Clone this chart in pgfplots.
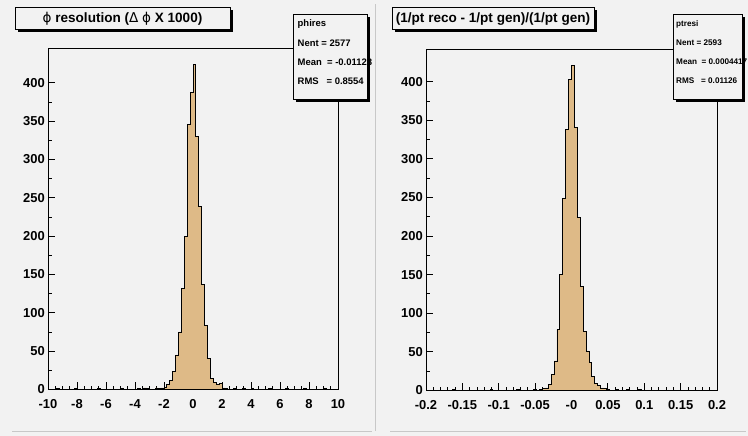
\documentclass[border=0pt]{standalone}
\usepackage{fontspec}
\setmainfont{Liberation Sans}
\newfontfamily\dejavu{DejaVu Sans}
\usepackage{pgfplots}
\pgfplotsset{compat=1.18}
\definecolor{bg}{RGB}{242,242,242}
\definecolor{histfill}{RGB}{222,186,135}
\definecolor{padline}{RGB}{200,200,200}

\pgfplotsset{rootaxis/.style={
  scale only axis,
  axis line style={black, line width=1bp},
  xtick pos=bottom, ytick pos=left,
  tick align=inside,
  major tick length=7bp, minor tick length=3.5bp,
  every tick/.style={black, line width=0.8bp},
  ymin=0,
  ytick={0,50,...,400},
  minor y tick num=1,
  /pgf/number format/assume math mode=true,
  tick label style={font=\bfseries\fontsize{13}{13}\selectfont, inner sep=0pt},
  xticklabel style={yshift=-10bp},
  yticklabel style={xshift=-3bp},
}}

\begin{document}
\begin{tikzpicture}
\fill[bg] (0bp,0bp) rectangle (748bp,436bp);
\useasboundingbox (0bp,0bp) rectangle (748bp,436bp);
% pad borders
\draw[padline, line width=1bp] (12bp,4bp) -- (372bp,4bp);
\draw[padline, line width=1bp] (375bp,5bp) -- (375bp,432bp);
\draw[padline, line width=1bp] (390bp,4bp) -- (746bp,4bp);

% ---------- left histogram ----------
\begin{axis}[rootaxis,
  at={(48bp,46.5bp)}, anchor=south west,
  width=290bp, height=340.5bp,
  xmin=-10, xmax=10, ymax=444,
  xtick={-10,-8,...,10},
  xticklabels={-10,-8,-6,-4,-2,0,2,4,6,8,10},
  minor x tick num=3,
]
\addplot[const plot, fill=histfill, draw=black, line width=0.9bp] coordinates {
(-10,0) (-9.4,1) (-9.2,0) (-8.2,1) (-8.0,0) (-6.6,1) (-6.4,0) (-5.0,1) (-4.8,0)
(-3.8,1) (-3.6,0) (-3.4,2) (-3.2,1) (-3.0,0) (-2.6,2) (-2.4,1) (-2.2,2)
(-2.0,3) (-1.8,6) (-1.6,12) (-1.4,24) (-1.2,45) (-1.0,75) (-0.8,132) (-0.6,200)
(-0.4,345) (-0.2,387) (0,424) (0.2,330) (0.4,239) (0.6,137) (0.8,83) (1.0,40)
(1.2,14) (1.4,9) (1.6,6) (1.8,8)
(2.0,2) (2.2,1) (2.4,0) (2.8,1) (3.0,0) (3.4,1) (3.6,0) (4.0,1) (4.2,0)
(5.2,1) (5.4,0) (6.4,1) (6.6,0) (7.6,1) (7.8,0) (9.0,1) (9.2,0) (10,0)
} \closedcycle;
\end{axis}

% ---------- right histogram ----------
\begin{axis}[rootaxis,
  at={(426bp,45.7bp)}, anchor=south west,
  width=291bp, height=341bp,
  xmin=-0.2, xmax=0.2, ymax=442,
  xtick={-0.2,-0.15,-0.1,-0.05,0,0.05,0.1,0.15,0.2},
  xticklabels={-0.2,-0.15,-0.1,-0.05,-0,0.05,0.1,0.15,0.2},
  minor x tick num=4,
]
\addplot[const plot, fill=histfill, draw=black, line width=0.9bp] coordinates {
(-0.2,0) (-0.164,1) (-0.160,0) (-0.112,1) (-0.108,0) (-0.076,1) (-0.072,0)
(-0.052,1) (-0.048,0) (-0.044,1) (-0.040,2) (-0.036,3) (-0.032,7) (-0.028,21)
(-0.024,38) (-0.020,79) (-0.016,150) (-0.012,249) (-0.008,338) (-0.004,403)
(0,421) (0.004,341) (0.008,224) (0.012,135) (0.016,76) (0.020,51) (0.024,36)
(0.028,18) (0.032,9) (0.036,6) (0.040,3) (0.044,2) (0.048,1) (0.052,0)
(0.060,1) (0.064,0) (0.076,1) (0.080,0) (0.092,1) (0.096,0) (0.2,0)
} \closedcycle;
\end{axis}

% ---------- title boxes ----------
\fill[black] (17.5bp,425.5bp) rectangle (232.5bp,403.5bp);
\filldraw[fill=bg, draw=black, line width=1bp] (15bp,428bp) rectangle (230bp,406bp);
\node[font=\bfseries\fontsize{13.6}{14}\selectfont, inner sep=0pt] at (122.5bp,417bp)
  {{\dejavu\mdseries ϕ} resolution ({\dejavu\mdseries Δ} {\dejavu\mdseries ϕ} X 1000)};

\fill[black] (394.5bp,425.5bp) rectangle (596.5bp,403.5bp);
\filldraw[fill=bg, draw=black, line width=1bp] (392bp,428bp) rectangle (594bp,406bp);
\node[font=\bfseries\fontsize{13.6}{14}\selectfont, inner sep=0pt] at (493bp,417bp)
  {(1/pt reco - 1/pt gen)/(1/pt gen)};

% ---------- stats boxes ----------
\fill[black] (295.5bp,418.5bp) rectangle (369.5bp,333.5bp);
\filldraw[fill=bg, draw=black, line width=1bp] (293bp,421bp) rectangle (367bp,336bp);
\begin{scope}[every node/.style={anchor=west, inner sep=0pt, font=\bfseries\fontsize{9.5}{10}\selectfont}]
\node at (297.5bp,412bp) {phires};
\node at (297.5bp,393bp) {Nent = 2577};
\node at (297.5bp,374bp) {Mean\ \ = -0.01128};
\node at (297.5bp,355bp) {RMS\ \ \ = 0.8554};
\end{scope}

\fill[black] (675.5bp,418.5bp) rectangle (744.5bp,333.5bp);
\filldraw[fill=bg, draw=black, line width=1bp] (673bp,421bp) rectangle (742bp,336bp);
\begin{scope}[every node/.style={anchor=west, inner sep=0pt, font=\bfseries\fontsize{8.2}{9}\selectfont}]
\node at (676bp,412bp) {ptresi};
\node at (676bp,393bp) {Nent = 2593};
\node at (676bp,374bp) {Mean\ \ = 0.0004417};
\node at (676bp,355bp) {RMS\ \ \ = 0.01126};
\end{scope}
\end{tikzpicture}
\end{document}
